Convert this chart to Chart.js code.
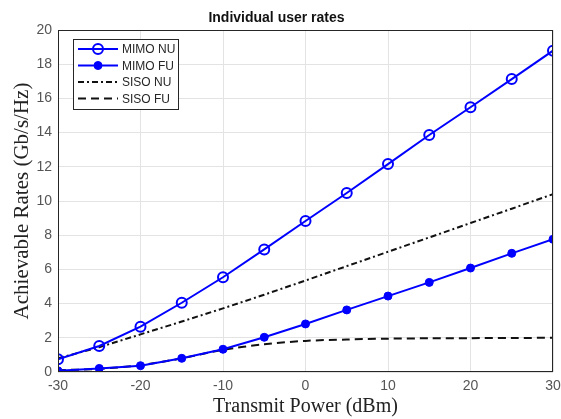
<!DOCTYPE html>
<html><head><meta charset="utf-8">
<script src="https://cdn.jsdelivr.net/npm/chart.js@4"></script>
<style>html,body{margin:0;padding:0;background:#fff}#wrap{width:561px;height:419px}</style>
</head><body><div id="wrap"><canvas id="c" width="561" height="419"></canvas></div>
<script>
const power = [-30,-25,-20,-15,-10,-5,0,5,10,15,20,25,30];
const mimoNU = [0.75,1.52,2.65,4.05,5.54,7.17,8.83,10.47,12.16,13.86,15.48,17.13,18.79];
const mimoFU = [0.07,0.21,0.37,0.80,1.33,2.03,2.81,3.63,4.44,5.24,6.08,6.94,7.76];
const sisoNU = [0.80,1.45,2.20,2.95,3.72,4.52,5.35,6.19,7.03,7.87,8.71,9.55,10.40];
const sisoFU = [0.10,0.19,0.40,0.80,1.30,1.62,1.82,1.90,1.95,1.97,1.98,1.99,2.00];
const seriesNames = ['MIMO NU','MIMO FU','SISO NU','SISO FU'];
const xTicks = [-30,-20,-10,0,10,20,30];
const yTicks = [0,2,4,6,8,10,12,14,16,18,20];

const pts = arr => power.map((x,i)=>({x:x,y:arr[i]}));
const BLUE = '#0000ff';

const boxPlugin = {
  id:'box',
  afterDatasetsDraw(chart){
    const {ctx, chartArea:a} = chart;
    ctx.save();
    ctx.strokeStyle = '#262626'; ctx.lineWidth = 1;
    ctx.strokeRect(a.left+0.5, a.top+0.5, a.right-a.left-1, a.bottom-a.top-1);
    ctx.restore();
  },
  afterDraw(chart){
    const {ctx, chartArea:a} = chart;
    const lx = a.left + 15, ly = a.top + 9, w = 105, h = 70;
    ctx.save();
    ctx.fillStyle = '#fff'; ctx.fillRect(lx, ly, w, h);
    ctx.strokeStyle = '#262626'; ctx.lineWidth = 1;
    ctx.strokeRect(lx+0.5, ly+0.5, w, h);
    chart.data.datasets.forEach((ds,i)=>{
      const y = ly + 10 + i*16.5;
      ctx.strokeStyle = ds.borderColor; ctx.lineWidth = ds.borderWidth;
      ctx.setLineDash(ds.borderDash || []);
      ctx.beginPath(); ctx.moveTo(lx+5, y); ctx.lineTo(lx+45, y); ctx.stroke();
      ctx.setLineDash([]);
      if (ds.pointRadius > 0) {
        ctx.beginPath(); ctx.arc(lx+25, y, ds.pointRadius, 0, Math.PI*2);
        ctx.fillStyle = ds.pointBackgroundColor; ctx.fill();
        ctx.lineWidth = ds.pointBorderWidth; ctx.strokeStyle = ds.pointBorderColor; ctx.stroke();
      }
      ctx.fillStyle = '#262626'; ctx.font = '12px "Liberation Sans", Arial, sans-serif';
      ctx.textBaseline = 'middle'; ctx.textAlign = 'left';
      ctx.fillText(ds.label, lx+49, y+1);
    });
    ctx.restore();
  }
};

new Chart(document.getElementById('c'), {
  type:'line',
  data:{ datasets:[
    {label:seriesNames[0], data:pts(mimoNU), borderColor:BLUE, borderWidth:2, pointRadius:5, pointStyle:'circle', pointBackgroundColor:'rgba(255,255,255,0)', pointBorderColor:BLUE, pointBorderWidth:2, tension:0},
    {label:seriesNames[1], data:pts(mimoFU), borderColor:BLUE, borderWidth:2, pointRadius:4, pointStyle:'circle', pointBackgroundColor:BLUE, pointBorderColor:BLUE, pointBorderWidth:1, tension:0},
    {label:seriesNames[2], data:pts(sisoNU), borderColor:'#111', borderWidth:2, borderDash:[6,3,2,3], pointRadius:0, tension:0},
    {label:seriesNames[3], data:pts(sisoFU), borderColor:'#111', borderWidth:2, borderDash:[8,5], pointRadius:0, tension:0.3}
  ]},
  options:{
    responsive:false, animation:false, devicePixelRatio:1,
    layout:{padding:{left:0,right:8,top:0,bottom:0}},
    plugins:{
      legend:{display:false}, tooltip:{enabled:false},
      title:{display:true, text:'Individual user rates', color:'#111',
        font:{family:'"Liberation Sans", Arial, sans-serif', size:14, weight:'bold', lineHeight:1.2},
        padding:{top:10, bottom:3.2}}
    },
    scales:{
      x:{type:'linear', min:-30, max:30,
        afterBuildTicks: s => { s.ticks = xTicks.map(v=>({value:v})); },
        afterFit: s => { s.height = 47; s.paddingRight = 0; s.paddingLeft = 0; },
        grid:{color:'#e3e3e3', drawTicks:false, lineWidth:1},
        border:{display:false},
        ticks:{color:'#555', padding:6, font:{family:'"Liberation Sans", Arial, sans-serif', size:14}},
        title:{display:true, text:'Transmit Power (dBm)', color:'#222', padding:{top:0,bottom:0},
          font:{family:'"Liberation Serif", "Times New Roman", serif', size:20}}
      },
      y:{min:0, max:20,
        afterBuildTicks: s => { s.ticks = yTicks.map(v=>({value:v})); },
        afterFit: s => { s.width = 58; },
        grid:{color:'#e3e3e3', drawTicks:false, lineWidth:1},
        border:{display:false},
        ticks:{color:'#555', padding:6, font:{family:'"Liberation Sans", Arial, sans-serif', size:14}},
        title:{display:true, text:'Achievable Rates (Gb/s/Hz)', color:'#222', padding:{top:10,bottom:0},
          font:{family:'"Liberation Serif", "Times New Roman", serif', size:21}}
      }
    }
  },
  plugins:[boxPlugin]
});
</script></body></html>
